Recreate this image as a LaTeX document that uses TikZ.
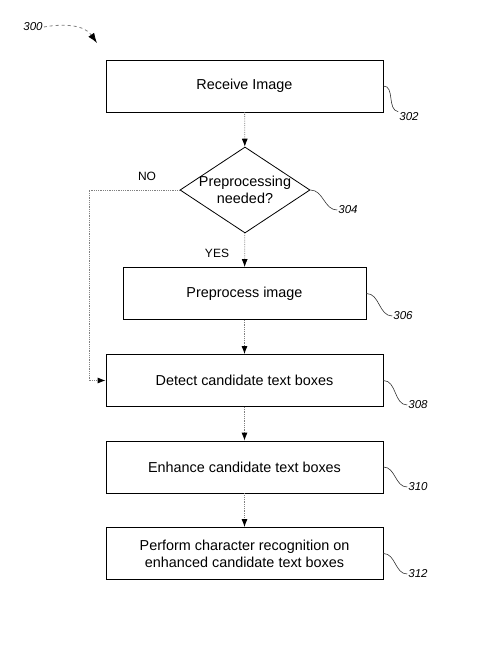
\documentclass[tikz,border=0pt]{standalone}
\usepackage{fontspec}
\setmainfont{Liberation Sans}
\usetikzlibrary{shapes.geometric,arrows.meta}
\tikzset{
  stepbox/.style={draw, line width=0.8pt, minimum width=277pt, minimum height=52pt, inner sep=0pt, align=center, font=\fontsize{14.4}{17}\selectfont},
  flow/.style={draw=gray, densely dotted, line width=0.8pt, -{Latex[length=8pt,width=6pt,black]}},
  leader/.style={draw=black!80, line width=0.6pt},
  refnum/.style={inner sep=1pt, font=\fontsize{11.5}{13}\selectfont\itshape},
  answer/.style={inner sep=1pt, font=\fontsize{12}{14}\selectfont},
}
\begin{document}
\begin{tikzpicture}[x=1pt, y=-1pt]
\useasboundingbox (0,0) rectangle (483,648);
\node[refnum] (fig) at (33,27) {300};
\coordinate (figtip) at (97,43);
\node[stepbox] (receive) at (244.5,86) {Receive Image};
\node[draw, line width=0.8pt, diamond, aspect=1.5, inner sep=-2.5pt, minimum width=130pt, minimum height=86pt, align=center, font=\fontsize{14.4}{17}\selectfont] (needed) at (245,190) {Preprocessing\\needed?};
\node[stepbox, minimum width=243pt] (prep) at (244.5,293.5) {Preprocess image};
\node[stepbox] (detect) at (244.5,380.5) {Detect candidate text boxes};
\node[stepbox] (enhance) at (244.5,467) {Enhance candidate text boxes};
\node[stepbox] (ocr) at (244.5,553.5) {Perform character recognition on\\enhanced candidate text boxes};
\node[answer] (no) at (147,176) {NO};
\node[answer] (yes) at (217,253) {YES};
\coordinate (bend) at (89,190);
% reference numerals
\node[refnum] (n302) at (409,117) {302};
\node[refnum] (n304) at (348,210) {304};
\node[refnum] (n306) at (403,316) {306};
\node[refnum] (n308) at (418,405) {308};
\node[refnum] (n310) at (418,487) {310};
\node[refnum] (n312) at (418,574) {312};
% flow
\draw[flow, dashed, -{Latex[length=10pt,width=7pt,black]}] (fig.east) to[out=10, in=125] (figtip);
\draw[flow] (receive) -- (needed);
\draw[flow] (needed) -- (prep);
\draw[flow] (prep) -- (detect);
\draw[flow] (detect) -- (enhance);
\draw[flow] (enhance) -- (ocr);
\draw[flow] (needed.west) -- (bend) |- (detect.west);
% leaders
\draw[leader] (receive.east) to[out=0, in=170] (n302.north west);
\draw[leader] (needed.east) to[out=0, in=180] (n304.west);
\draw[leader] (prep.east) to[out=0, in=180] (n306.west);
\draw[leader] (detect.east) to[out=0, in=180] (n308.west);
\draw[leader] (enhance.east) to[out=0, in=180] (n310.west);
\draw[leader] (ocr.east) to[out=0, in=180] (n312.west);
\end{tikzpicture}
\end{document}
